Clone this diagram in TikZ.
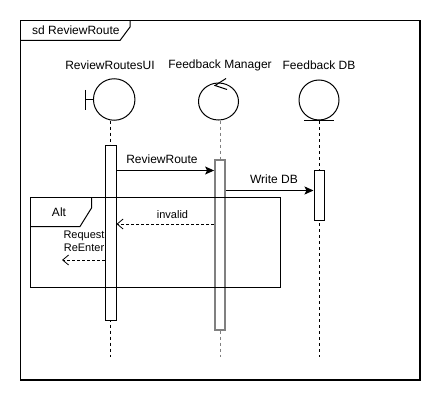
\documentclass[tikz,border=0pt]{standalone}
\usepackage{fontspec}
\setmainfont{Liberation Sans}
\usetikzlibrary{arrows.meta,positioning,shapes.geometric}
\tikzset{
	headlbl/.style={font=\fontsize{12}{14}\selectfont, inner sep=0pt},
	msglbl/.style={font=\fontsize{11}{12.6}\selectfont, inner sep=0pt, align=center},
	icon/.style={circle, draw, line width=1pt, minimum size=40pt, inner sep=0pt},
	actbox/.style={draw, fill=white, line width=1pt, minimum width=11pt, inner sep=0pt},
	lifeline/.style={line width=1pt, dash pattern=on 3pt off 3pt},
	syncmsg/.style={line width=1pt, -{Stealth[length=9pt,width=8pt,inset=2pt]}},
	retmsg/.style={line width=0.8pt, dash pattern=on 3pt off 2pt, -{Straight Barb[length=6pt,width=10pt,line width=0.8pt]}},
}
\begin{document}
\begin{tikzpicture}[x=1pt,y=-1pt,line cap=butt,line join=miter]
	\useasboundingbox (0,0) rectangle (441,401);
	% sd frame
	\draw[line width=1.2pt] (20.5,20.5) rectangle (420,380);
	\draw[line width=1pt] (20.5,40.5) -- (120,40.5) -- (130,27) -- (130,20.5);
	\node[headlbl, anchor=west] (sdtitle) at (32,30) {sd ReviewRoute};
	% lifeline heads
	\node[headlbl] (uiname) at (110,65) {ReviewRoutesUI};
	\node[headlbl] (mgrname) at (220,65) {Feedback Manager};
	\node[headlbl] (dbname) at (319,65) {Feedback DB};
	% boundary
	\node[icon, minimum size=41.5pt] (uiicon) at (114.2,99.5) {};
	\coordinate (uibar) at (85,99.5);
	\draw[line width=1pt] (uiicon.west) -- (uibar);
	\draw[line width=1pt] (85,90) -- (85,110);
	% control
	\node[ellipse, draw, line width=1pt, inner sep=0pt, minimum width=40pt, minimum height=37pt] (mgricon) at (218.5,101.5) {};
	\draw[line width=1pt] (226,78.5) -- (215,85.5) -- (227,89.5);
	% entity
	\node[icon] (dbicon) at (319,100) {};
	\draw[line width=1pt] (304,120.5) -- (334,120.5);
	% lifelines
	\coordinate (uiend) at (110.5,357);
	\coordinate (mgrend) at (220,357);
	\coordinate (dbend) at (319.5,357);
	\draw[lifeline] (110.5,120.5) -- (uiend);
	\draw[lifeline, gray] (220,120.5) -- (mgrend);
	\draw[lifeline] (319.5,121) -- (dbend);
	% activations
	\node[actbox, minimum height=175pt] (uiact) at (110.5,232.5) {};
	\node[actbox, draw=gray, line width=1.8pt, minimum width=10pt, minimum height=170pt] (mgract) at (220,245) {};
	\node[actbox, minimum width=10pt, minimum height=50pt] (dbact) at (319,195) {};
	% messages
	\draw[syncmsg] (uiact.east |- 0,170.5) -- (mgract.west |- 0,170.5);
	\node[msglbl, font=\fontsize{12}{14}\selectfont] (m1) at (162,159) {ReviewRoute};
	\draw[syncmsg] (mgract.east |- 0,190.5) -- (dbact.west |- 0,190.5);
	\node[msglbl, font=\fontsize{12}{14}\selectfont] (m2) at (274,179) {Write DB};
	\draw[retmsg] (mgract.west |- 0,224) -- (uiact.east |- 0,224);
	\node[msglbl] (m3) at (172.5,215) {invalid};
	\coordinate (reenter) at (62,260);
	\draw[retmsg] (uiact.west |- 0,260) -- (reenter);
	\node[msglbl] (m4) at (84,241) {Request\\ReEnter};
	% alt fragment
	\draw[line width=1pt] (30,197) rectangle (280,287);
	\draw[line width=1pt] (30,226.5) -- (80,226.5) -- (91.5,208) -- (91.5,197);
	\node[headlbl] (altlbl) at (59,212) {Alt};
\end{tikzpicture}
\end{document}
